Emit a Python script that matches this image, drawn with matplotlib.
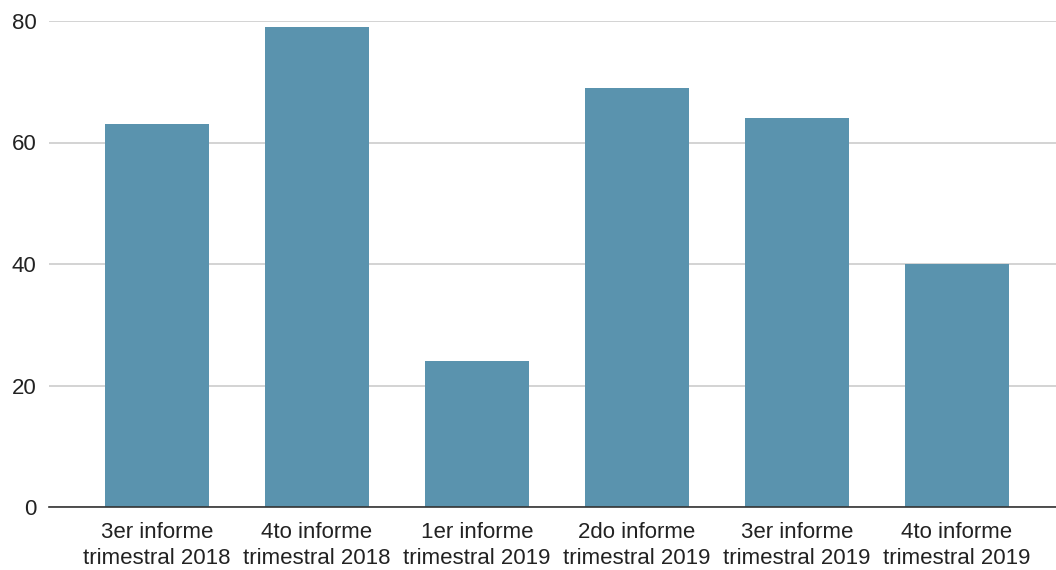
import matplotlib
matplotlib.use("Agg")
import matplotlib.pyplot as plt

plt.rcParams["font.family"] = ["Liberation Sans", "DejaVu Sans"]

categories = [
    "3er informe\ntrimestral 2018",
    "4to informe\ntrimestral 2018",
    "1er informe\ntrimestral 2019",
    "2do informe\ntrimestral 2019",
    "3er informe\ntrimestral 2019",
    "4to informe\ntrimestral 2019",
]
values = [63, 79, 24, 69, 64, 40]
yticks = [0, 20, 40, 60, 80]

fig = plt.figure(figsize=(10.56, 5.70), dpi=100, facecolor="white")
# plot area runs a little past the right edge of the canvas
ax = fig.add_axes([49 / 1056, 1 - 507 / 570, (1065 - 49) / 1056, (507 - 21) / 570])

x = range(len(categories))
ax.bar(x, values, width=0.65, color="#5a93ae", zorder=3)

ax.set_xlim(-0.675, len(categories) - 1 + 0.675)
ax.set_ylim(0, 80)
ax.set_yticks(yticks)
ax.set_xticks(list(x))
ax.set_xticklabels(categories, fontsize=16, color="#222222", linespacing=1.28)
ax.tick_params(axis="y", labelsize=16, colors="#222222", length=0, pad=9)
ax.tick_params(axis="x", length=0, pad=11)

ax.grid(axis="y", color="#cccccc", linewidth=1.2, zorder=0)
for side in ["top", "right", "left"]:
    ax.spines[side].set_visible(False)
ax.spines["bottom"].set_color("#333333")
ax.spines["bottom"].set_linewidth(1.2)
ax.spines["bottom"].set_zorder(4)

fig.savefig("out.png", dpi=100, facecolor="white")
